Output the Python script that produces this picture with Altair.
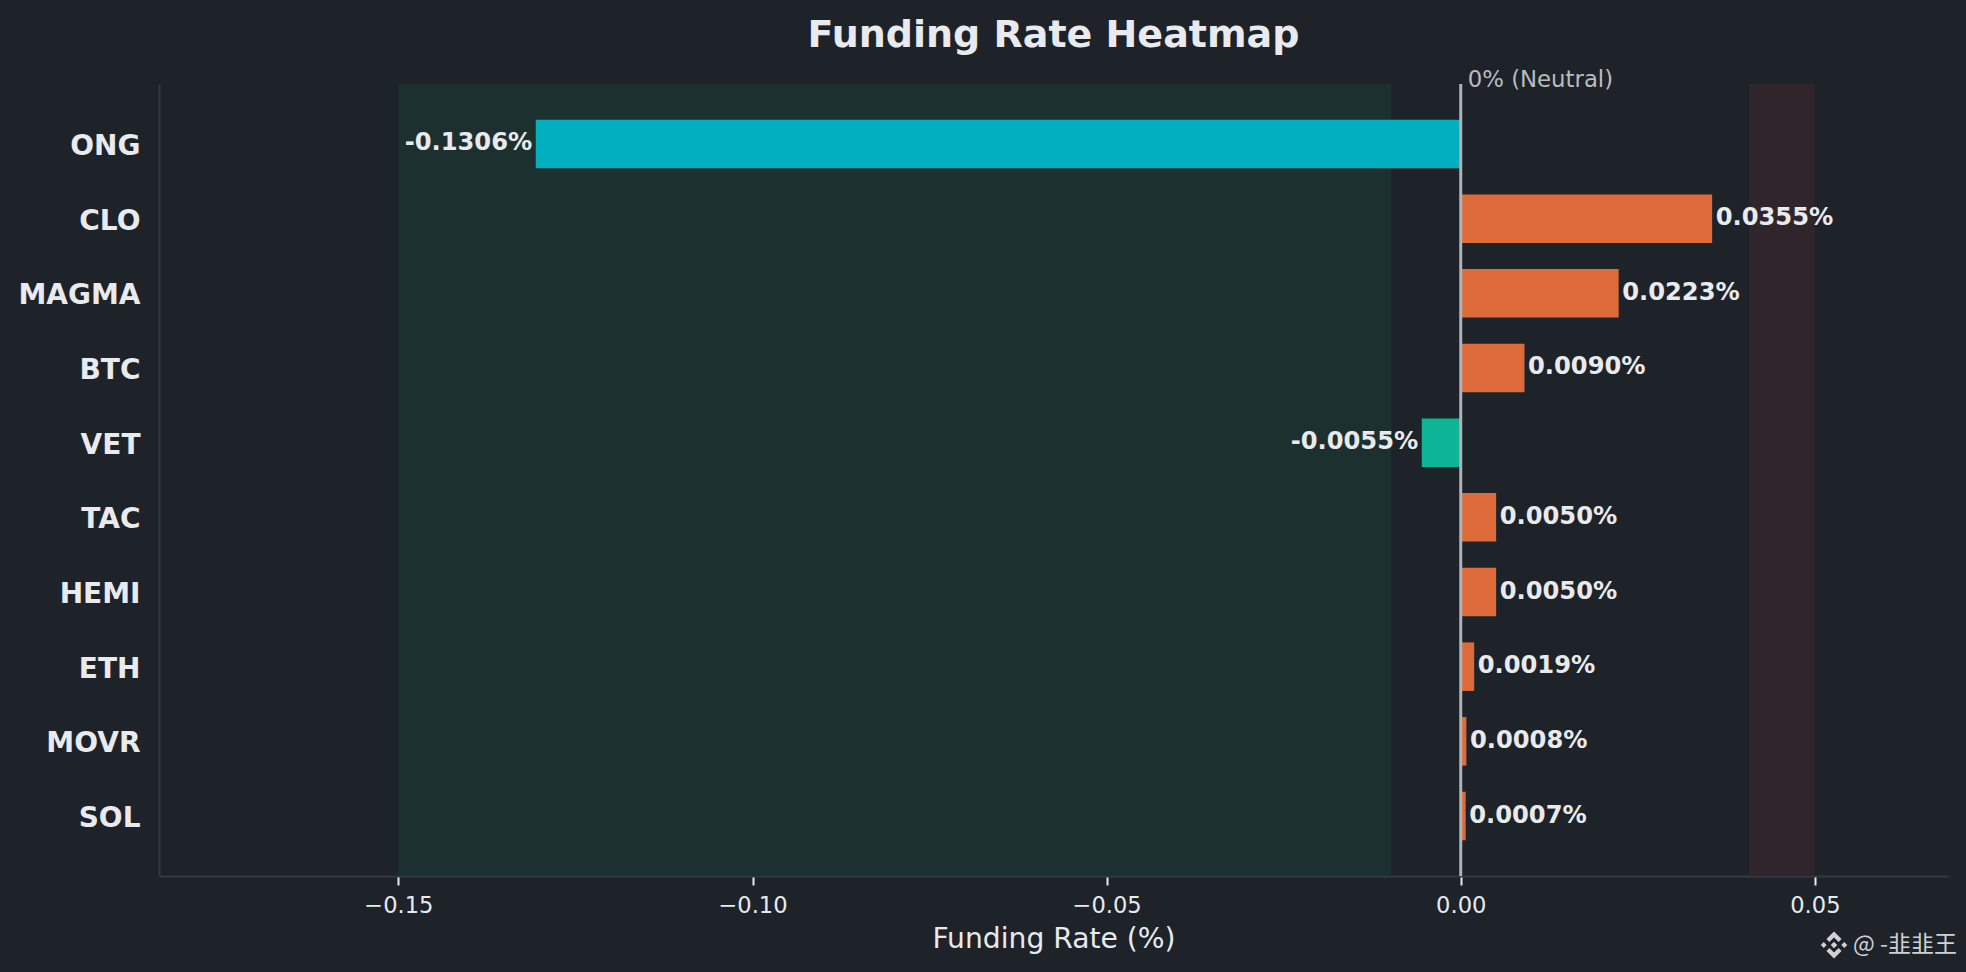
import altair as alt
import pandas as pd

symbols = ["ONG", "CLO", "MAGMA", "BTC", "VET", "TAC", "HEMI", "ETH", "MOVR", "SOL"]
rates = [-0.1306, 0.0355, 0.0223, 0.0090, -0.0055, 0.0050, 0.0050, 0.0019, 0.0008, 0.0007]
bar_colors = ["#02afbf", "#dd6b3a", "#dd6b3a", "#dd6b3a", "#0db596", "#dd6b3a", "#dd6b3a", "#dd6b3a", "#dd6b3a", "#dd6b3a"]
band_start = [-0.15, 0.0407]
band_end = [-0.0098, 0.05]
band_colors = ["#1d3030", "#31252c"]
x_ticks = [-0.15, -0.10, -0.05, 0.0, 0.05]

BG = "#1e2229"
TXT = "#e8eaed"
SPINE = "#343842"
FONT = "DejaVu Sans"
LOGO = ("M0 -0.24L0.24 0L0 0.24L-0.24 0Z"
        "M-0.76 -0.22L-0.54 0L-0.76 0.22L-0.98 0Z"
        "M0.76 -0.22L0.98 0L0.76 0.22L0.54 0Z"
        "M0 -1L0.56 -0.44L0.34 -0.22L0 -0.56L-0.34 -0.22L-0.56 -0.44Z"
        "M0 1L0.56 0.44L0.34 0.22L0 0.56L-0.34 0.22L-0.56 0.44Z")

df = pd.DataFrame({
    "symbol": symbols,
    "rate": rates,
    "color": bar_colors,
    "label": [f"{v:.4f}%" for v in rates],
})
bands = pd.DataFrame({"a": band_start, "b": band_end, "color": band_colors})

x_scale = alt.Scale(domain=[-0.1838, 0.0688], nice=False, zero=False)
y_scale = alt.Scale(domain=symbols, paddingInner=0.35, paddingOuter=0.4785)

x_axis = alt.Axis(
    values=x_ticks, format=".2f", grid=False, title="Funding Rate (%)",
    titleFont=FONT, titleFontSize=28.2, titleFontWeight="normal", titleColor=TXT, titlePadding=9,
    labelFont=FONT, labelFontSize=22.6, labelColor=TXT, labelPadding=9,
    tickColor=TXT, tickSize=9, tickWidth=2, domainColor=SPINE, domainWidth=2,
)
y_axis = alt.Axis(
    title=None, grid=False, labelFont=FONT, labelFontSize=28, labelFontWeight="bold",
    labelColor=TXT, labelPadding=17, labelOffset=3, tickSize=2, tickColor="#2a2d35", domainColor=SPINE, domainWidth=2,
)

band_layer = alt.Chart(bands).mark_rect().encode(
    x=alt.X("a:Q", scale=x_scale, axis=x_axis),
    x2="b:Q",
    color=alt.Color("color:N", scale=None),
)
bars = alt.Chart(df).mark_bar(cornerRadius=0).encode(
    x=alt.X("rate:Q", scale=x_scale, axis=x_axis),
    x2=alt.datum(0),
    y=alt.Y("symbol:N", scale=y_scale, sort=symbols, axis=y_axis),
    color=alt.Color("color:N", scale=None),
)
zero_rule = alt.Chart(pd.DataFrame({"z": [0.0]})).mark_rule(color="#b0b3b8", strokeWidth=3).encode(
    x=alt.X("z:Q", scale=x_scale, axis=x_axis)
)
label_base = alt.Chart(df).encode(
    x=alt.X("rate:Q", scale=x_scale, axis=x_axis),
    y=alt.Y("symbol:N", scale=y_scale, sort=symbols, axis=y_axis),
    text="label:N",
)
style = dict(font=FONT, fontSize=24.2, fontWeight="bold", color=TXT, baseline="middle", dy=-0.5)
pos_labels = label_base.transform_filter("datum.rate >= 0").mark_text(align="left", dx=3.5, **style)
neg_labels = label_base.transform_filter("datum.rate < 0").mark_text(align="right", dx=-3.5, **style)

neutral = alt.Chart(pd.DataFrame({"z": [0.0], "t": ["0% (Neutral)"]})).mark_text(
    align="left", baseline="middle", dx=7, font=FONT, fontSize=22.8, color="#babcc0"
).encode(x=alt.X("z:Q", scale=x_scale, axis=x_axis), y=alt.value(-4), text="t:N")

mark_df = pd.DataFrame({"t": ["@ -韭韭王"]})
mark_text = alt.Chart(mark_df).mark_text(
    align="left", baseline="middle", font="Noto Sans CJK SC", fontSize=23, color="#cfd1d4"
).encode(x=alt.value(1694), y=alt.value(861), text="t:N")
mark_logo = alt.Chart(mark_df).mark_point(
    shape=LOGO, size=729, filled=True, color="#cfd1d4", opacity=1, strokeWidth=0
).encode(x=alt.value(1675), y=alt.value(861))

chart = (band_layer + bars + zero_rule + pos_labels + neg_labels + neutral + mark_text + mark_logo).properties(
    width=1789, height=792,
    title=alt.TitleParams(
        "Funding Rate Heatmap", font=FONT, fontSize=38, fontWeight="bold",
        color=TXT, anchor="middle", offset=14.5,
    ),
    background=BG,
    padding={"left": 151, "top": 76, "right": 10, "bottom": 88},
    autosize=alt.AutoSizeParams(type="none"),
).configure_view(stroke=None)

chart.save("out.html", embed_options={
    "renderer": "svg", "actions": False,
    "defaultStyle": "html,body{background:#1e2229;overflow:hidden}",
})
